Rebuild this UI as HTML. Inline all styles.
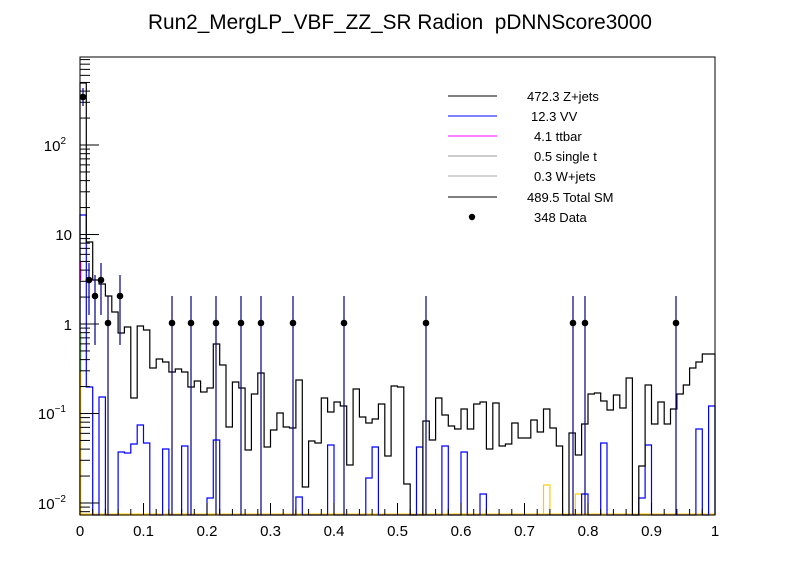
<!DOCTYPE html>
<html><head><meta charset="utf-8"><style>
html,body{margin:0;padding:0;background:#fff;}
svg{display:block;font-family:"Liberation Sans",sans-serif;}
</style></head><body>
<svg id="s" width="796" height="572" viewBox="0 0 796 572" xmlns="http://www.w3.org/2000/svg">
<rect width="796" height="572" fill="#fff"/>
<text x="400" y="29" font-size="20.8" text-anchor="middle" xml:space="preserve">Run2_MergLP_VBF_ZZ_SR Radion&#160; pDNNScore3000</text>
<g id="plot"></g>
<rect x="80" y="57" width="635" height="458" fill="none" stroke="#000" stroke-width="1"/>
<g font-size="15" text-anchor="middle">
<text x="80" y="536">0</text><text x="143.5" y="536">0.1</text><text x="207" y="536">0.2</text><text x="270.5" y="536">0.3</text><text x="334" y="536">0.4</text><text x="397.5" y="536">0.5</text><text x="461" y="536">0.6</text><text x="524.5" y="536">0.7</text><text x="588" y="536">0.8</text><text x="651.5" y="536">0.9</text><text x="715" y="536">1</text>
</g>
<g font-size="15" text-anchor="end">
<text x="66" y="509">10<tspan font-size="10" dy="-7">−2</tspan></text>
<text x="66" y="419">10<tspan font-size="10" dy="-7">−1</tspan></text>
<text x="72" y="330">1</text>
<text x="72" y="240">10</text>
<text x="66" y="151">10<tspan font-size="10" dy="-7">2</tspan></text>
</g>
<g font-size="13">
<line x1="448" y1="96" x2="497" y2="96" stroke="#000"/><text x="527" y="101">472.3 Z+jets</text>
<line x1="448" y1="116" x2="497" y2="116" stroke="#0000ff"/><text x="531" y="121">12.3 VV</text>
<line x1="448" y1="136" x2="497" y2="136" stroke="#ff00ff"/><text x="534" y="141">4.1 ttbar</text>
<line x1="448" y1="156" x2="497" y2="156" stroke="#999"/><text x="534" y="161">0.5 single t</text>
<line x1="448" y1="176" x2="497" y2="176" stroke="#aaa"/><text x="534" y="181">0.3 W+jets</text>
<line x1="448" y1="197" x2="497" y2="197" stroke="#000"/><text x="527" y="202">489.5 Total SM</text>
<circle cx="472" cy="217" r="3.2" fill="#000"/><text x="534" y="222">348 Data</text>
</g>
</svg>
<script>
var NS="http://www.w3.org/2000/svg",g=document.getElementById("plot");
function el(t,a){var e=document.createElementNS(NS,t);for(var k in a)e.setAttribute(k,a[k]);g.appendChild(e);return e;}
var B=515,W=6.35;
var black=[83,242,280,284,296,312,333,327,398,326,330,368,359,362,372,369,372,387,381,392,388,344,365,427,382,388,450,394,373,447,
430,413,427,428,380,487,441,443,398,412,402,406,465,389,417,423,419,404,456,386,387,484,515,515,421,440,398,415,426,429,
409,429,404,402,449,403,446,444,423,438,438,420,432,409,428,446,515,433,455,424,394,393,401,410,395,408,378,515,466,385,
424,402,424,409,394,385,368,362,354,354];
var blue={0:215,1:387,3:397,6:452,7:453,8:444,9:425,10:443,13:449,16:446,20:498,21:440,34:497,39:445,45:478,46:447,53:447,57:446,60:452,63:494,79:494,82:443,88:498,89:445,97:429,99:406};
var yel={73:485,78:494};
function hist(arr,col){var d="M80 "+B;for(var i=0;i<100;i++){var y=arr[i]===undefined?B:arr[i];var x0=80+i*W,x1=80+(i+1)*W;d+=" L"+x0.toFixed(1)+" "+y+" L"+x1.toFixed(1)+" "+y;}d+=" L715 "+B;el("path",{d:d,fill:"none",stroke:col,"stroke-width":1.2});}
el("line",{x1:80,y1:514.5,x2:715,y2:514.5,stroke:"#ffcc00","stroke-width":2});
hist(yel,"#ffcc00");
hist(blue,"#0000ff");
hist(black,"#000");
el("line",{x1:80.7,y1:261,x2:80.7,y2:280,stroke:"#ff00ff","stroke-width":1.3});
el("line",{x1:80.7,y1:332,x2:80.7,y2:372,stroke:"#66cc66","stroke-width":1.3});
el("line",{x1:80.7,y1:372,x2:80.7,y2:515,stroke:"#ffcc00","stroke-width":1.3});
for(var i=0;i<=50;i++){var x=80+i*12.7,L=(i%5==0)?12:6;el("line",{x1:x,y1:B,x2:x,y2:B-L,stroke:"#000","stroke-width":1});}
function ly(v){return 324-Math.log10(v)*89.5;}
for(var e=-3;e<=2;e++){for(var m=1;m<10;m++){var v=m*Math.pow(10,e),y=ly(v);if(y<57||y>515)continue;var L=m==1?19:10;el("line",{x1:80,y1:y,x2:80+L,y2:y,stroke:"#000","stroke-width":1});}}
var pts=[[83,97,88,106],[89,280,263,315],[95,296,275,345],[101,280,263,315],[108,323,296,515],[120,296,275,345],
[172,323,296,515],[191,323,296,515],[216,323,296,515],[241,323,296,515],[261,323,296,515],[293,323,296,515],[344,323,296,515],[426,323,296,515],[573,323,296,515],[585,323,296,515],[676,323,296,515]];
pts.forEach(function(p){el("line",{x1:p[0],y1:p[2],x2:p[0],y2:p[3],stroke:"#000080","stroke-width":1.2});el("circle",{cx:p[0],cy:p[1],r:3.3,fill:"#000"});});
</script>
</body></html>
